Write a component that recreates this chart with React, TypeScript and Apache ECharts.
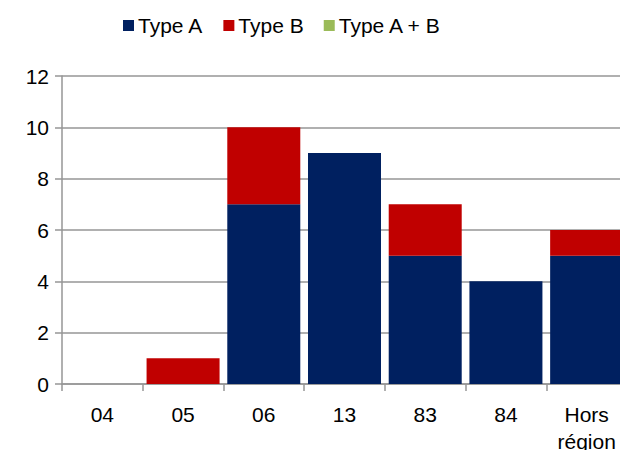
import React, { useEffect, useRef } from "react";
import * as echarts from "echarts";

const categories = ["04", "05", "06", "13", "83", "84", "Hors\nrégion"];
const typeA = [0, 0, 7, 9, 5, 4, 5];
const typeB = [0, 1, 3, 0, 2, 0, 1];
const typeAB = [0, 0, 0, 0, 0, 0, 0];
const yTicks = { min: 0, max: 12, interval: 2 };

const FONT = "'Liberation Sans', Arial, sans-serif";
const GRAY = "#969696";

export default function App() {
  const ref = useRef<HTMLDivElement>(null);
  useEffect(() => {
    if (!ref.current) return;
    const chart = echarts.init(ref.current, undefined, { renderer: "svg" });
    const toData = (arr: number[]) => arr.map((v) => (v === 0 ? null : v));
    chart.setOption({
      animation: false,
      textStyle: { fontFamily: FONT },
      legend: {
        top: 10,
        left: 118,
        itemWidth: 11,
        itemHeight: 11,
        itemGap: 20,
        icon: "rect",
        textStyle: { fontSize: 21, color: "#000", fontFamily: FONT, padding: [0, 0, 0, -1] },
        data: ["Type A", "Type B", "Type A + B"],
      },
      grid: { left: 62, right: -7, top: 76, bottom: 66, containLabel: false, outerBoundsMode: "none" },
      xAxis: {
        type: "category",
        data: categories,
        boundaryGap: true,
        axisLine: { show: true, lineStyle: { color: GRAY, width: 1.5 } },
        axisTick: { show: true, length: 7, alignWithLabel: false, lineStyle: { color: GRAY, width: 1.5 } },
        axisLabel: {
          color: "#000",
          fontSize: 21,
          fontFamily: FONT,
          margin: 17,
          lineHeight: 27,
          interval: 0,
          hideOverlap: false,
        },
      },
      yAxis: {
        type: "value",
        min: yTicks.min,
        max: yTicks.max,
        interval: yTicks.interval,
        axisLine: { show: true, lineStyle: { color: GRAY, width: 1.5 } },
        axisTick: { show: true, length: 7, lineStyle: { color: GRAY, width: 1.5 } },
        splitLine: { show: true, lineStyle: { color: GRAY, width: 1.5 } },
        axisLabel: { color: "#000", fontSize: 21, fontFamily: FONT, margin: 13 },
      },
      series: [
        {
          name: "Type A",
          type: "bar",
          stack: "s",
          barWidth: 73,
          itemStyle: { color: "#002060" },
          data: toData(typeA),
        },
        {
          name: "Type B",
          type: "bar",
          stack: "s",
          barWidth: 73,
          itemStyle: { color: "#C00000" },
          data: toData(typeB),
        },
        {
          name: "Type A + B",
          type: "bar",
          stack: "s",
          barWidth: 73,
          itemStyle: { color: "#9BBB59" },
          data: toData(typeAB),
        },
      ],
    });
    return () => chart.dispose();
  }, []);
  return (
    <div
      ref={ref}
      style={{ position: "fixed", left: 0, top: 0, width: 620, height: 450, background: "#fff" }}
    />
  );
}
